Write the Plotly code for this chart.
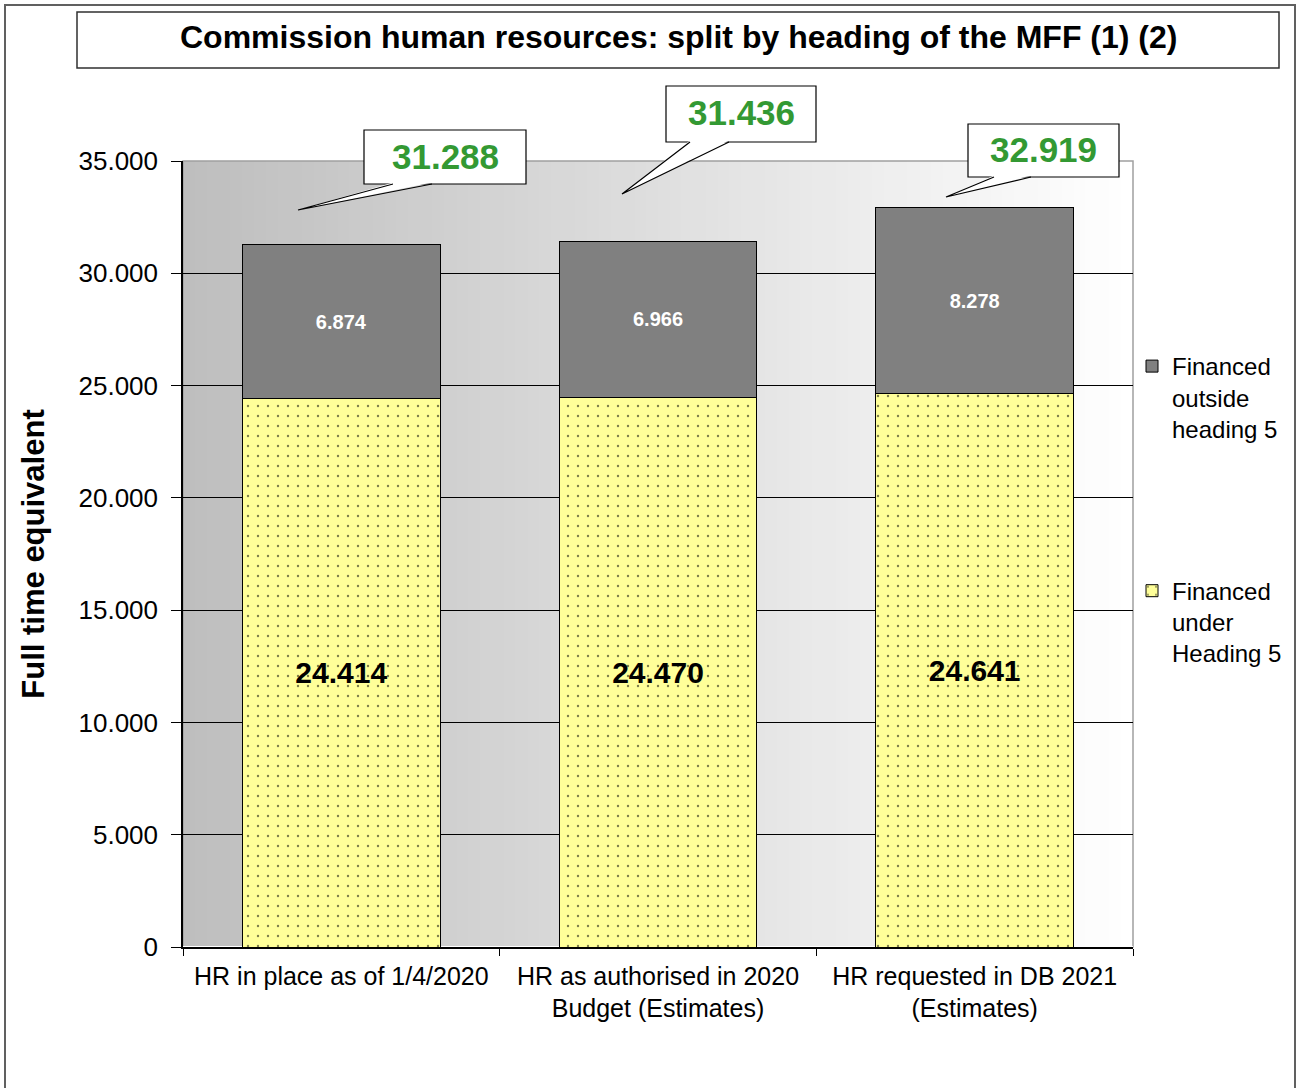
import plotly.graph_objects as go

# ---------------- data ----------------
categories = [
    "HR in place as of 1/4/2020",
    "HR as authorised in 2020<br>Budget (Estimates)",
    "HR requested in DB 2021<br>(Estimates)",
]
under_heading5 = [24414, 24470, 24641]
outside_heading5 = [6874, 6966, 8278]
totals = [a + b for a, b in zip(under_heading5, outside_heading5)]
y_tick_values = [0, 5000, 10000, 15000, 20000, 25000, 30000, 35000]

series_names = ["Financed<br>under<br>Heading 5", "Financed<br>outside<br>heading 5"]
title_text = "Commission human resources: split by heading of the MFF (1) (2)"
y_title = "Full time equivalent"

# ---------------- layout geometry helpers ----------------
W, H = 1296, 1088
ML, MR, MT, MB = 183, 163, 161, 141
PW = W - ML - MR
PH = H - MT - MB


def px(x):
    return (x - ML) / PW


def py(y):
    return (H - MB - y) / PH


FONT = "Liberation Sans, Arial, sans-serif"


def fmt(v):
    return f"{v:,}".replace(",", ".")


fig = go.Figure()

fig.add_trace(go.Bar(
    x=categories, y=under_heading5, name=series_names[0], legendgroup="g1",
    legendrank=2,
    marker=dict(color="#FFFF99", line=dict(color="#000000", width=1),
                pattern=dict(shape=".", fgcolor="#000000", bgcolor="#FFFF99",
                             size=10, solidity=0.045, fillmode="overlay")),
    texttemplate="%{y:,}", textposition="inside", insidetextanchor="middle",
    textangle=0,
    textfont=dict(family=FONT, size=30, color="#000000", weight="bold"),
    hoverinfo="skip",
))
fig.add_trace(go.Bar(
    x=categories, y=outside_heading5, name=series_names[1], legendgroup="g2",
    legendrank=1,
    marker=dict(color="#808080", line=dict(color="#000000", width=1)),
    texttemplate="%{y:,}", textposition="inside", insidetextanchor="middle",
    textangle=0,
    textfont=dict(family=FONT, size=20, color="#FFFFFF", weight="bold"),
    hoverinfo="skip",
))

shapes = []
# gradient background of the plot area
N = 80
for i in range(N):
    g = round(190 + (255 - 190) * i / (N - 1))
    shapes.append(dict(type="rect", xref="x domain", yref="y domain",
                       x0=i / N, x1=(i + 1) / N + 0.003, y0=0, y1=1,
                       fillcolor=f"rgb({g},{g},{g})", line=dict(width=0),
                       layer="below"))
# plot frame
shapes.append(dict(type="rect", xref="x domain", yref="y domain",
                   x0=0, x1=1, y0=0, y1=1, line=dict(color="#A0A0A0", width=1.5),
                   fillcolor="rgba(0,0,0,0)", layer="below"))
# outer border
shapes.append(dict(type="rect", xref="paper", yref="paper",
                   x0=px(5), x1=px(1295), y0=py(1100), y1=py(5),
                   line=dict(color="#606060", width=2), fillcolor="rgba(0,0,0,0)"))
# title box
shapes.append(dict(type="rect", xref="paper", yref="paper",
                   x0=px(77), x1=px(1279), y0=py(68), y1=py(12),
                   line=dict(color="#303030", width=1.5), fillcolor="#FFFFFF"))

annotations = [dict(text=f"<b>{title_text}</b>", xref="paper", yref="paper",
                    x=px(678), y=py(37), xanchor="center", yanchor="middle",
                    showarrow=False,
                    font=dict(family=FONT, size=32, color="#000000"))]

# callouts: box (l, r, top, bottom), wedge base (x0, x1), tip (x, y)
callouts = [
    ((364, 526, 130, 184), (393, 432), (298, 210)),
    ((666, 816, 86, 142), (690, 729), (622, 194)),
    ((968, 1119, 124, 177), (994, 1031), (946, 197)),
]
for total, ((l, r, t, b), (w0, w1), (tx, ty)) in zip(totals, callouts):
    shapes.append(dict(type="rect", xref="paper", yref="paper",
                       x0=px(l), x1=px(r), y0=py(b), y1=py(t),
                       line=dict(color="#000000", width=1.2), fillcolor="#FFFFFF",
                       layer="above"))
    shapes.append(dict(type="path", xref="paper", yref="paper",
                       path=f"M {px(w0)},{py(b - 1.5)} L {px(tx)},{py(ty)} L {px(w1)},{py(b - 1.5)} Z",
                       fillcolor="#FFFFFF", line=dict(width=0), layer="above"))
    shapes.append(dict(type="path", xref="paper", yref="paper",
                       path=f"M {px(w0)},{py(b)} L {px(tx)},{py(ty)} L {px(w1)},{py(b)}",
                       fillcolor="rgba(0,0,0,0)", line=dict(color="#000000", width=1.2),
                       layer="above"))
    annotations.append(dict(text=f"<b>{fmt(total)}</b>", xref="paper", yref="paper",
                            x=px((l + r) / 2), y=py((t + b) / 2 - 1),
                            xanchor="center", yanchor="middle", showarrow=False,
                            font=dict(family=FONT, size=35, color="#339933")))

fig.update_layout(
    width=W, height=H,
    margin=dict(l=ML, r=MR, t=MT, b=MB, autoexpand=False),
    paper_bgcolor="#FFFFFF", plot_bgcolor="#FFFFFF",
    barmode="stack", bargap=0.375,
    separators=",.",
    font=dict(family=FONT, size=24, color="#000000"),
    showlegend=True,
    legend=dict(x=px(1132), y=py(344), xanchor="left", yanchor="top",
                traceorder="grouped", tracegroupgap=128, valign="top",
                itemwidth=30,
                bgcolor="rgba(0,0,0,0)", font=dict(family=FONT, size=24, color="#000000")),
    shapes=shapes,
    annotations=annotations,
)
fig.update_xaxes(
    type="category", categoryorder="array", categoryarray=categories,
    showline=True, linecolor="#000000", linewidth=1.5,
    ticks="outside", tickson="boundaries", ticklen=7, tickcolor="#000000",
    ticklabelstandoff=6,
    tickfont=dict(family=FONT, size=25, color="#000000"),
    showgrid=False,
)
fig.update_yaxes(
    range=[0, 35000], tickvals=y_tick_values, tickformat=",",
    showline=True, linecolor="#000000", linewidth=1.5,
    ticks="outside", ticklen=10, tickcolor="#000000", ticklabelstandoff=8,
    tickfont=dict(family=FONT, size=26, color="#000000"),
    showgrid=True, gridcolor="#000000", gridwidth=1,
    title=dict(text=f"<b>{y_title}</b>", font=dict(family=FONT, size=31, color="#000000"),
               standoff=25),
)

fig.write_html("out.html", config={"displayModeBar": False},
               post_script="document.body.style.margin='0';")
